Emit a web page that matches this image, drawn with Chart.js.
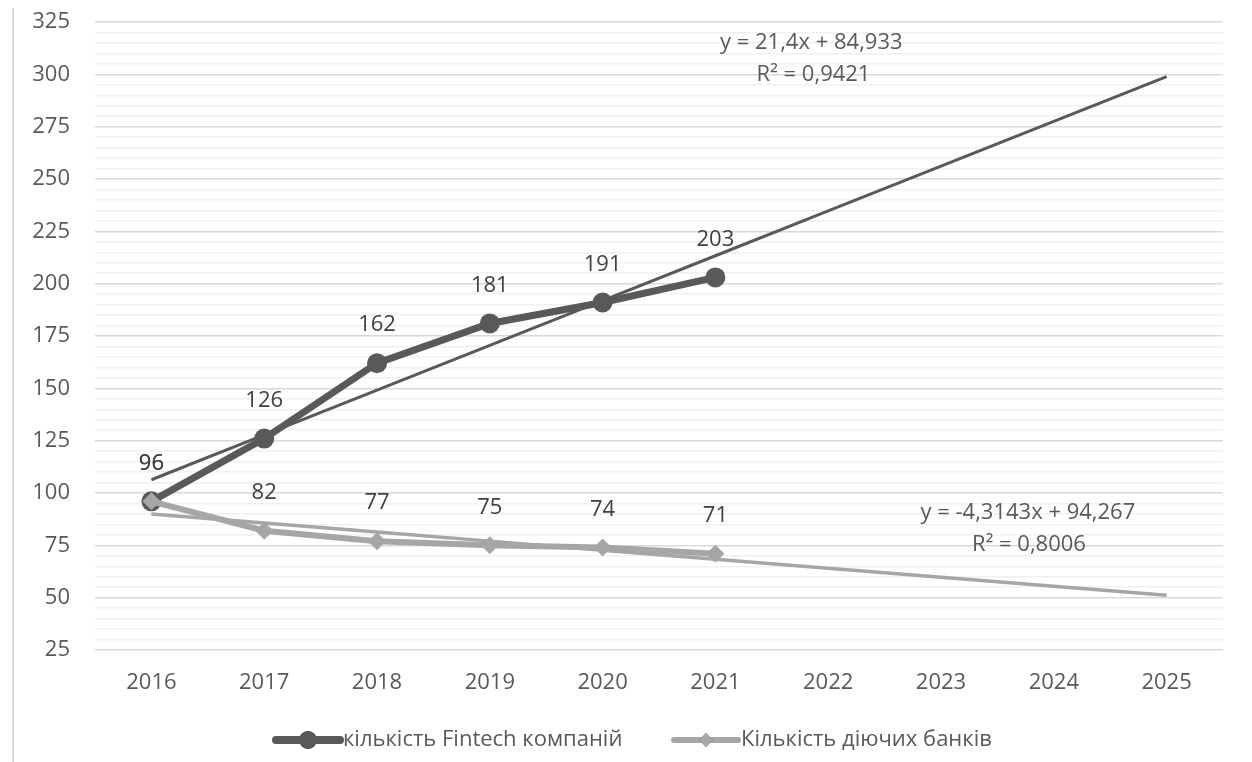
<!DOCTYPE html>
<html>
<head>
<meta charset="utf-8">
<script src="https://cdn.jsdelivr.net/npm/chart.js@4/dist/chart.umd.min.js"></script>
<style>
  html, body { margin: 0; padding: 0; background: #fff; }
  #wrap { width: 1252px; height: 762px; position: relative; }
</style>
</head>
<body>
<div id="wrap"><canvas id="chart" width="1252" height="762"></canvas></div>
<script>
// data
const years = ['2016', '2017', '2018', '2019', '2020', '2021', '2022', '2023', '2024', '2025'];
const fintech = [96, 126, 162, 181, 191, 203];
const banks = [96, 82, 77, 75, 74, 71];
// trendline coefficients as printed on the chart (x = 1..10)
const fintechTrend = { slope: 21.4, intercept: 84.933, eq: 'y = 21,4x + 84,933', r2: 'R² = 0,9421' };
const banksTrend = { slope: -4.3143, intercept: 94.267, eq: 'y = -4,3143x + 94,267', r2: 'R² = 0,8006' };
const seriesNames = ['кількість Fintech компаній', 'Кількість діючих банків'];

const FONT = '"Open Sans", "Noto Sans", sans-serif';
const DARK = '#595959';
const LIGHT = '#a6a6a6';

function trendValues(t) {
  return years.map((_, i) => t.slope * (i + 1) + t.intercept);
}

// value labels above points + trend equations + frame line + legend
const extras = {
  id: 'extras',
  afterDatasetsDraw(chart) {
    const ctx = chart.ctx;
    const x = chart.scales.x, y = chart.scales.y;
    ctx.save();
    ctx.font = '22px ' + FONT;
    ctx.fillStyle = '#404040';
    ctx.textAlign = 'center';
    ctx.textBaseline = 'middle';
    chart.data.datasets.forEach((ds, di) => {
      if (!ds.showValues) return;
      chart.getDatasetMeta(di).data.forEach((pt, i) => {
        ctx.fillText(String(ds.data[i]), pt.x, pt.y - 38);
      });
    });

    // trend equations
    ctx.fillStyle = DARK;
    const eqs = [
      [fintechTrend.eq, 5.85, 315], [fintechTrend.r2, 5.87, 300],
      [banksTrend.eq, 7.77, 90.5], [banksTrend.r2, 7.78, 75.2]
    ];
    eqs.forEach(([t, xi, yv]) => ctx.fillText(t, x.getPixelForValue(xi), y.getPixelForValue(yv)));

    // left frame line
    ctx.strokeStyle = '#d9d9d9';
    ctx.lineWidth = 2;
    ctx.beginPath();
    ctx.moveTo(13, 8);
    ctx.lineTo(13, 762);
    ctx.stroke();

    // legend
    const ly = 740;
    const items = [
      { x0: 272, color: DARK, lw: 8, style: 'circle', r: 9 },
      { x0: 670, color: LIGHT, lw: 6, style: 'rectRot', r: 7 }
    ];
    ctx.textAlign = 'left';
    items.forEach((it, k) => {
      ctx.strokeStyle = it.color;
      ctx.lineWidth = it.lw;
      ctx.lineCap = 'round';
      ctx.beginPath();
      ctx.moveTo(it.x0 + 4, ly);
      ctx.lineTo(it.x0 + 68, ly);
      ctx.stroke();
      Chart.helpers.drawPoint(ctx, { pointStyle: it.style, radius: it.r, borderWidth: 0 }, it.x0 + 36, ly);
      ctx.fillStyle = it.color;
      ctx.fill();
      ctx.fillStyle = '#595959';
      ctx.fillText(seriesNames[k], it.x0 + 71, ly);
    });
    ctx.restore();
  }
};

new Chart(document.getElementById('chart'), {
  type: 'line',
  data: {
    labels: years,
    datasets: [
      {
        label: seriesNames[1],
        data: banks,
        borderColor: LIGHT,
        backgroundColor: LIGHT,
        borderWidth: 6,
        pointStyle: 'rectRot',
        pointRadius: 9,
        pointBorderWidth: 0,
        showValues: true,
        order: 0
      },
      {
        label: seriesNames[0],
        data: fintech,
        borderColor: DARK,
        backgroundColor: DARK,
        borderWidth: 7,
        pointStyle: 'circle',
        pointRadius: 10,
        pointBorderWidth: 0,
        showValues: true,
        order: 1
      },
      {
        label: 'trend fintech',
        data: trendValues(fintechTrend),
        borderColor: DARK,
        borderWidth: 3,
        pointRadius: 0,
        order: 2
      },
      {
        label: 'trend banks',
        data: trendValues(banksTrend),
        borderColor: LIGHT,
        borderWidth: 3.5,
        pointRadius: 0,
        order: 3
      }
    ]
  },
  options: {
    responsive: false,
    animation: false,
    layout: { padding: { top: 22, right: 29, bottom: 70, left: 0 } },
    plugins: {
      legend: { display: false },
      tooltip: { enabled: false }
    },
    scales: {
      x: {
        offset: true,
        grid: { display: false, drawTicks: false },
        border: { display: false },
        ticks: { color: '#595959', font: { family: FONT, size: 22 }, padding: 20, maxRotation: 0 },
        afterFit(s) { s.height = 42; }
      },
      y: {
        min: 25,
        max: 325,
        border: { display: false },
        grid: {
          drawTicks: true,
          tickLength: 22,
          tickColor: 'rgba(0,0,0,0)',
          color: c => (c.tick && c.tick.value % 25 === 0) ? '#d9d9d9' : '#f0f0f0',
          lineWidth: 1.5
        },
        ticks: {
          stepSize: 5,
          autoSkip: false,
          color: '#595959',
          font: { family: FONT, size: 22 },
          padding: 3,
          callback: v => (v % 25 === 0 ? v : '')
        },
        afterFit(s) { s.width = 95; }
      }
    }
  },
  plugins: [extras]
});
</script>
</body>
</html>
